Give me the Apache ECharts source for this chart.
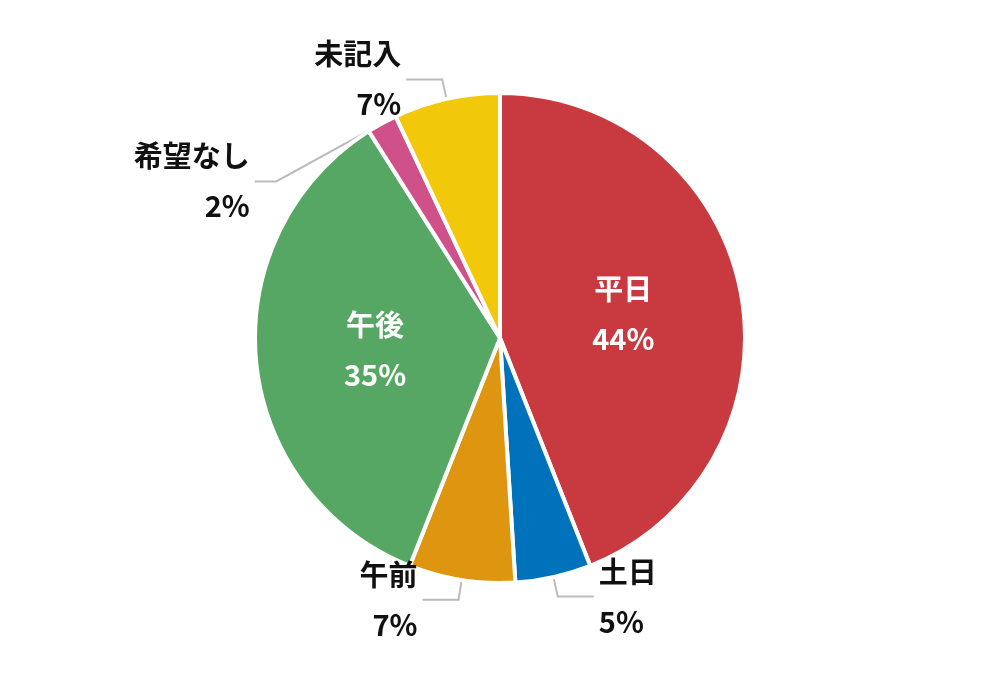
<!DOCTYPE html>
<html><head><meta charset="utf-8">
<script src="https://cdn.jsdelivr.net/npm/echarts@6/dist/echarts.min.js"></script>
<style>html,body{margin:0;background:#fff}#c{width:1000px;height:680px}</style>
</head><body><div id="c"></div>
<script>
const categories = ['平日','土日','午前','午後','希望なし','未記入'];
const values = [44, 5, 7, 35, 2, 7];
const colors = ['#C93A40','#0072BC','#DE9610','#56A764','#D0508A','#F2C80A'];
const insideLabels = ['平日','午後'];
const font = '"Noto Sans CJK JP", sans-serif';
const chart = echarts.init(document.getElementById('c'));
chart.setOption({
  animation:false,
  series:[{
    type:'pie', center:[500,338], radius:245, startAngle:90, clockwise:true,
    itemStyle:{borderColor:'#fff', borderWidth:4},
    label:{formatter:p=>p.name+'\n'+p.value+'%', fontFamily:font, fontWeight:'bold', fontSize:29, lineHeight:50, color:'#111', align:'center'},
    labelLine:{length:20, length2:36, lineStyle:{color:'#bbb', width:2}},
    data: categories.map((n,i)=>{
      const d={name:n, value:values[i], itemStyle:{color:colors[i]}};
      if(insideLabels.includes(n)){ d.label={position:'inside', color:'#fff'}; d.labelLine={show:false}; }
      return d;
    })
  }]
});
</script></body></html>
